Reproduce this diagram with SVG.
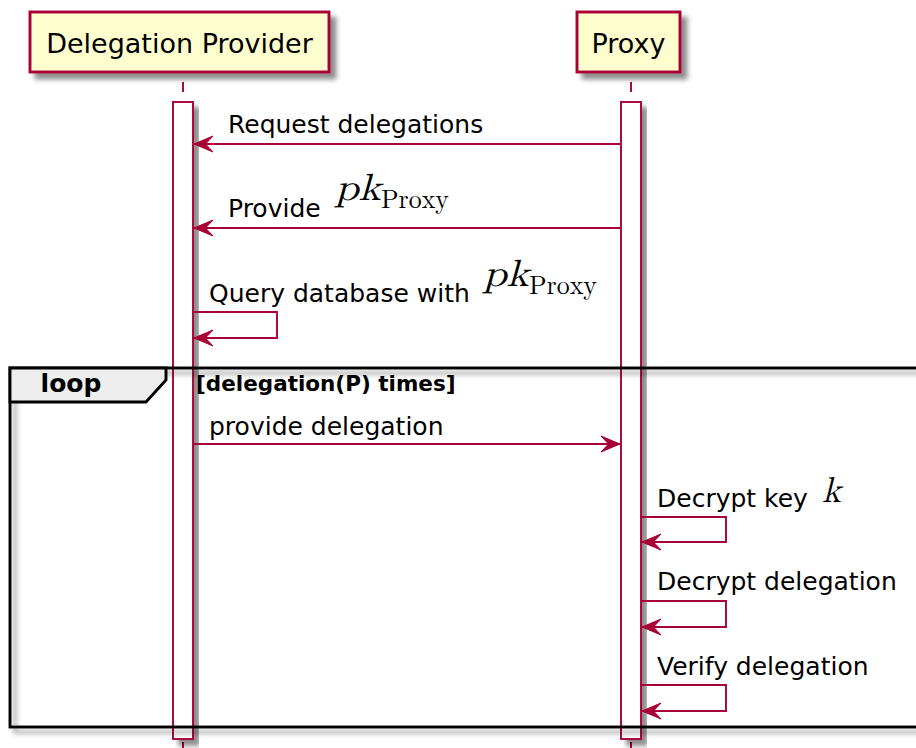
<svg xmlns="http://www.w3.org/2000/svg" width="916" height="748" viewBox="0 0 916 748">
  <defs>
    <filter id="shadow" x="-20%" y="-20%" width="150%" height="150%">
      <feGaussianBlur in="SourceAlpha" stdDeviation="2.5"/>
      <feOffset dx="6" dy="6" result="b"/>
      <feComponentTransfer><feFuncA type="linear" slope="0.45"/></feComponentTransfer>
      <feMerge><feMergeNode/><feMergeNode in="SourceGraphic"/></feMerge>
    </filter>
    <filter id="shadowFrame" x="-5%" y="-5%" width="115%" height="115%">
      <feGaussianBlur in="SourceAlpha" stdDeviation="2.5"/>
      <feOffset dx="5" dy="5" result="b"/>
      <feComponentTransfer><feFuncA type="linear" slope="0.4"/></feComponentTransfer>
      <feMerge><feMergeNode/><feMergeNode in="SourceGraphic"/></feMerge>
    </filter>
    <!-- barbed arrowhead, tip at the end of the line -->
    <marker id="head" viewBox="0 0 20 18" refX="19" refY="9" markerWidth="20" markerHeight="18" markerUnits="userSpaceOnUse" orient="auto">
      <path d="M19,9 L0,1 L7.5,9 L0,17 Z" fill="#A80036" stroke="#A80036" stroke-width="1" stroke-linejoin="miter"/>
    </marker>
  </defs>
  <style>
    .part { fill: #FEFECE; stroke: #A80036; stroke-width: 2.9; }
    .ptxt { font-family: "DejaVu Sans", sans-serif; font-size: 27px; fill: #000; text-anchor: middle; }
    .life { stroke: #A80036; stroke-width: 1.9; stroke-dasharray: 10 10; fill: none; }
    .act { fill: #FFFFFF; stroke: #A80036; stroke-width: 1.9; }
    .msg { stroke: #A80036; stroke-width: 1.9; fill: none; }
    .mtxt { font-family: "DejaVu Sans", sans-serif; font-size: 25px; fill: #000; }
    .math { font-family: "Latin Modern Math", "Liberation Serif", serif; fill: #000; }
    .frame { fill: none; stroke: #000; stroke-width: 2.9; }
    .tab { fill: #EEEEEE; stroke: #000; stroke-width: 2.9; }
    .ftxt { font-family: "DejaVu Sans", sans-serif; font-weight: bold; fill: #000; }
  </style>

  <rect width="916" height="748" fill="#FFFFFF"/>

  <!-- lifelines -->
  <g id="lifelines">
    <line class="life" x1="183" y1="82" x2="183" y2="760"/>
    <line class="life" x1="631" y1="82" x2="631" y2="760"/>
  </g>

  <!-- participants -->
  <g id="delegation-provider">
    <rect class="part" x="30" y="12" width="299" height="60" filter="url(#shadow)"/>
    <text class="ptxt" x="179.5" y="53">Delegation Provider</text>
  </g>
  <g id="proxy">
    <rect class="part" x="577" y="12" width="103" height="60" filter="url(#shadow)"/>
    <text class="ptxt" x="628.5" y="53">Proxy</text>
  </g>

  <!-- activation bars -->
  <g id="activation-provider">
    <rect class="act" x="173" y="102" width="20" height="637" filter="url(#shadow)"/>
  </g>
  <g id="activation-proxy">
    <rect class="act" x="621" y="102" width="20" height="637" filter="url(#shadow)"/>
  </g>

  <!-- loop fragment -->
  <g id="loop">
    <rect class="frame" x="10" y="368" width="930" height="359" filter="url(#shadowFrame)"/>
    <path class="tab" d="M10,368 L166,368 L166,380 L146,402 L10,402 Z"/>
    <text class="ftxt" x="71" y="392" font-size="25" text-anchor="middle">loop</text>
    <text class="ftxt" x="196" y="391" font-size="21.5">[delegation(P) times]</text>
  </g>

  <!-- messages -->
  <g id="connectors">
    <line class="msg" x1="621" y1="144" x2="194" y2="144" marker-end="url(#head)"/>
    <line class="msg" x1="621" y1="228" x2="194" y2="228" marker-end="url(#head)"/>
    <path class="msg" d="M193,312 H277 V338 H194" marker-end="url(#head)"/>
    <line class="msg" x1="193" y1="444" x2="620" y2="444" marker-end="url(#head)"/>
    <path class="msg" d="M641,517 H726 V542 H642" marker-end="url(#head)"/>
    <path class="msg" d="M641,601 H726 V627 H642" marker-end="url(#head)"/>
    <path class="msg" d="M641,685 H726 V711 H642" marker-end="url(#head)"/>
  </g>

  <!-- message labels -->
  <g id="labels">
    <text class="mtxt" x="228" y="133">Request delegations</text>

    <text class="mtxt" x="228" y="217">Provide</text>
    <text class="math" x="335" y="200" font-size="38" font-style="italic" textLength="46" lengthAdjust="spacingAndGlyphs">pk</text>
    <text class="math" x="381" y="208" font-size="27" textLength="68" lengthAdjust="spacingAndGlyphs">Proxy</text>

    <text class="mtxt" x="209" y="302">Query database with</text>
    <text class="math" x="483" y="286" font-size="38" font-style="italic" textLength="46" lengthAdjust="spacingAndGlyphs">pk</text>
    <text class="math" x="529" y="294" font-size="27" textLength="68" lengthAdjust="spacingAndGlyphs">Proxy</text>

    <text class="mtxt" x="209" y="435">provide delegation</text>

    <text class="mtxt" x="657" y="507">Decrypt key</text>
    <text class="math" x="822" y="502" font-size="36" font-style="italic">k</text>

    <text class="mtxt" x="657" y="590">Decrypt delegation</text>
    <text class="mtxt" x="657" y="675">Verify delegation</text>
  </g>
</svg>
